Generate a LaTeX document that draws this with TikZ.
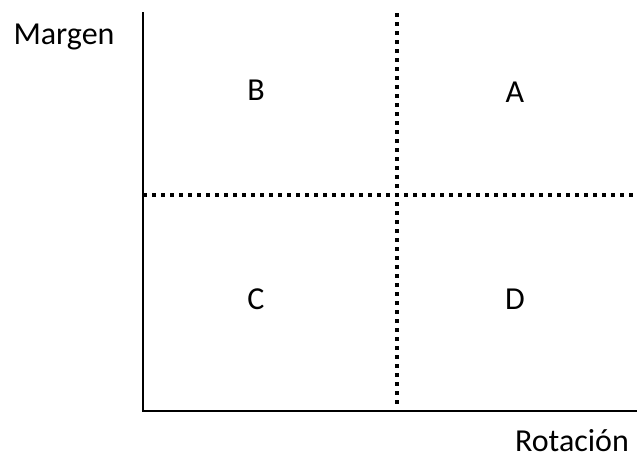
\documentclass[tikz,border=0pt]{standalone}
\usepackage{fontspec}
\setmainfont{Carlito}
\tikzset{
  axis/.style={line width=2.5pt},
  divider/.style={line width=4pt, dash pattern=on 4pt off 5pt},
  lbl/.style={font=\fontsize{32}{38}\selectfont, inner sep=0pt},
}
\begin{document}
\begin{tikzpicture}[x=1pt,y=-1pt]
\useasboundingbox (0,0) rectangle (637,459);
\coordinate (ytop) at (143,12);
\coordinate (origin) at (143,411);
\coordinate (xend) at (637,411);
\coordinate (vtop) at (397,13);
\coordinate (vbot) at (397,407);
\coordinate (hleft) at (143,195);
\coordinate (hright) at (637,195);
\draw[axis] (ytop) -- (origin) -- (xend);
\draw[divider] (vtop) -- (vbot);
\draw[divider] (hleft) -- (hright);
\node[lbl] (margen) at (64,37) {Margen};
\node[lbl] (rot) at (572,441) {Rotación};
\node[lbl] (B) at (256,90) {B};
\node[lbl] (A) at (515,92) {A};
\node[lbl] (C) at (256,299) {C};
\node[lbl] (D) at (515,299) {D};
\end{tikzpicture}
\end{document}
